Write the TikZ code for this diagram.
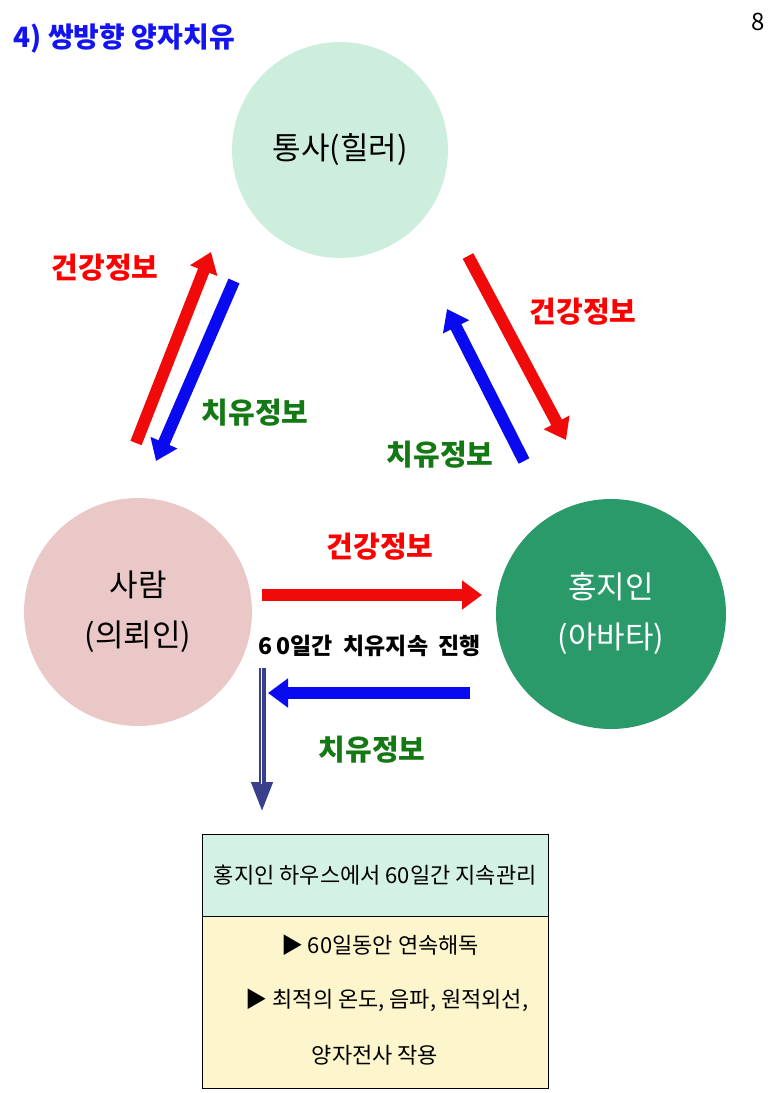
\documentclass[tikz,border=0pt]{standalone}
\usepackage{fontspec}
\setmainfont{Noto Sans CJK KR}
\usetikzlibrary{arrows.meta}
\definecolor{mint}{HTML}{CDEEDD}
\definecolor{pinkc}{HTML}{EAC8C8}
\definecolor{greenc}{HTML}{2A9A6B}
\definecolor{navy}{HTML}{3A3F8C}
\definecolor{hdr}{HTML}{D3F1E4}
\definecolor{bdy}{HTML}{FDF6CC}
\begin{document}
\begin{tikzpicture}[x=1pt,y=-1pt,
 red/.style={draw={rgb,255:red,240;green,10;blue,10},line width=12pt,-{Triangle[length=20pt,width=28pt]}},
 blu/.style={draw={rgb,255:red,10;green,10;blue,240},line width=12pt,-{Triangle[length=20pt,width=28pt]}},
 lab/.style={font=\fontsize{29}{32}\selectfont\bfseries},
 big/.style={font=\fontsize{31}{50}\selectfont, align=center}]
\useasboundingbox (0,0) rectangle (773,1093);
\node[anchor=west,text={rgb,255:red,20;green,20;blue,240},font=\fontsize{28}{32}\selectfont\bfseries] (t) at (10,38) {4) 쌍방향 양자치유};
\node[font=\fontsize{24}{28}\selectfont] (p) at (758,22) {8};
\node[circle,fill=mint,minimum size=216pt,big] (a) at (340,150) {통사(힐러)};
\node[circle,fill=pinkc,minimum size=228pt,big] (b) at (138,612) {사람\\(의뢰인)};
\node[circle,fill=greenc,minimum size=230pt,big,text=white] (c) at (611,614) {홍지인\\(아바타)};
\coordinate (r1s) at (136,443); \coordinate (r1e) at (211,252);
\coordinate (b1s) at (234,281); \coordinate (b1e) at (156,461);
\coordinate (r2s) at (468,256); \coordinate (r2e) at (566,440);
\coordinate (b2s) at (524,461); \coordinate (b2e) at (447,309);
\coordinate (r3s) at (262,595); \coordinate (r3e) at (482,595);
\coordinate (b3s) at (470,693); \coordinate (b3e) at (268,693);
\draw[red] (r1s) -- (r1e);
\draw[blu] (b1s) -- (b1e);
\draw[red] (r2s) -- (r2e);
\draw[blu] (b2s) -- (b2e);
\draw[red] (r3s) -- (r3e);
\draw[blu] (b3s) -- (b3e);
\node[lab,text=red] (l1) at (105,268) {건강정보};
\node[lab,text=red] (l2) at (583,312) {건강정보};
\node[lab,text=red] (l3) at (380,547) {건강정보};
\node[lab,text={rgb,255:red,20;green,120;blue,20}] (l4) at (255,413) {치유정보};
\node[lab,text={rgb,255:red,20;green,120;blue,20}] (l5) at (440,455) {치유정보};
\node[lab,text={rgb,255:red,20;green,120;blue,20}] (l6) at (372,750) {치유정보};
\node[font=\fontsize{23}{28}\selectfont\bfseries] (l7) at (370,646) {6\,0일간\ \ 치유지속\ \ 진행};
\coordinate (ds) at (262,668); \coordinate (de) at (262,812);
\draw[navy,line width=7pt,-{Triangle[length=30pt,width=20pt]}] (ds) -- (de);
\draw[white,line width=2.2pt,shorten >=28pt] (ds) -- (de);
\draw[navy,line width=0.8pt,shorten >=28pt] (ds) -- (de);
\node[draw,fill=hdr,minimum width=346pt,minimum height=82pt,anchor=north west,font=\fontsize{22}{26}\selectfont] (h) at (202,834) {홍지인 하우스에서 60일간 지속관리};
\node[draw,fill=bdy,minimum width=346pt,minimum height=172pt,anchor=north west,inner sep=0pt] (bd) at (h.south west) {};
\node[font=\fontsize{22}{26}\selectfont] (t1) at (380,945) {▶ 60일동안 연속해독};
\node[font=\fontsize{22}{26}\selectfont] (t2) at (387,1000) {▶ 최적의 온도, 음파, 원적외선,};
\node[font=\fontsize{22}{26}\selectfont] (t3) at (375,1055) {양자전사 작용};
\end{tikzpicture}
\end{document}
